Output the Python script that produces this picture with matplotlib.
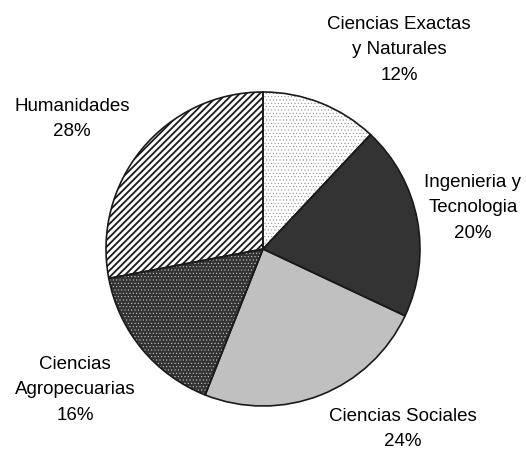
import matplotlib.pyplot as plt

plt.rcParams['font.family'] = ['Liberation Sans', 'DejaVu Sans']

# Distribution by field (percent), clockwise from 12 o'clock
categories = ["Ciencias Exactas\ny Naturales", "Ingenieria y\nTecnologia",
              "Ciencias Sociales", "Ciencias\nAgropecuarias", "Humanidades"]
shares = [12, 20, 24, 16, 28]

face_colors = ['white', '#333333', '#c0c0c0', '#333333', 'white']
hatch_colors = ['#909090', '#333333', '#c0c0c0', '#c8c8c8', '#1a1a1a']
hatches = ['.....', None, None, '.....', '/////']
hatch_widths = [0.4, 1.0, 1.0, 0.4, 1.3]

# label centres in pixel coordinates (x, y from top)
label_pos = [(399, 50), (473, 208), (403, 429), (75, 390), (72, 119)]

W, H = 526, 455
fig = plt.figure(figsize=(W / 100, H / 100), dpi=100)
ax = fig.add_axes([0, 0, 1, 1])

center = (263, H - 249)
radius = 157

# filled + hatched wedges
wedges, _ = ax.pie(shares, colors=face_colors, startangle=90, counterclock=False,
                   center=center, radius=radius, frame=True)
for w, h, hc, hw in zip(wedges, hatches, hatch_colors, hatch_widths):
    w.set_edgecolor(hc)
    w.set_linewidth(0)
    if h:
        w.set_hatch(h)
        if hasattr(w, 'set_hatch_linewidth'):
            w.set_hatch_linewidth(hw)
        else:
            w._hatch_linewidth = hw

# outlines on top
ax.pie(shares, colors=['none'] * len(shares), startangle=90, counterclock=False,
       center=center, radius=radius, frame=True,
       wedgeprops=dict(edgecolor='#1a1a1a', linewidth=1.2))

ax.set_xlim(0, W)
ax.set_ylim(0, H)
ax.set_aspect('equal')
ax.axis('off')

for name, val, (x, y) in zip(categories, shares, label_pos):
    ax.text(x, H - y, f"{name}\n{val}%", ha='center', va='center',
            fontsize=13.5, color='black', linespacing=1.68)

fig.savefig('out.png', dpi=100)
